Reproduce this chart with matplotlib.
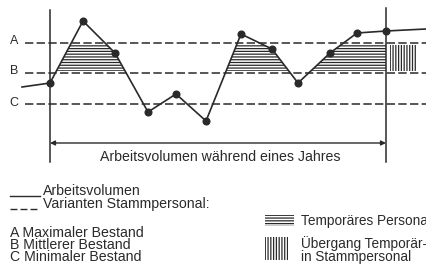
import numpy as np
import matplotlib
matplotlib.use("Agg")
import matplotlib.pyplot as plt
from matplotlib.patches import Rectangle

plt.rcParams['font.family'] = ['Liberation Sans', 'DejaVu Sans']
plt.rcParams['lines.scale_dashes'] = False
plt.rcParams['hatch.linewidth'] = 0.9

# ---- data (chart units: x = time, y = volume) ----
time_x = [22, 50, 83, 115, 148, 176, 206, 241, 272, 298, 330, 357, 386, 426]
volume = [181, 185, 247, 215, 156, 174, 147, 234, 219, 185, 215, 235, 237, 239]
marker_idx = list(range(1, 13))
level_labels = ["A", "B", "C"]
level_values = [225, 195, 164]
level_names = ["A Maximaler Bestand", "B Mittlerer Bestand", "C Minimaler Bestand"]
year_start, year_end = 50, 386
hatch_low, hatch_high = 197, 223
transfer_box = (390, 417)

ink = "#2a2a2a"
fs = 10.2
fig = plt.figure(figsize=(4.26, 2.68), dpi=100)
ax = fig.add_axes([0, 0, 1, 1])
ax.set_xlim(0, 426)
ax.set_ylim(0, 268)
ax.axis('off')

# dashed levels
for lab, v in zip(level_labels, level_values):
    ax.plot([25, 426], [v, v], color=ink, lw=1.1, dashes=(6, 2.4))
    ax.text(14, v + 1.5, lab, ha='center', va='center', fontsize=9, color=ink)

# hatched temporary staff area
xd = np.linspace(year_start, year_end, 2000)
yd = np.interp(xd, time_x, volume)
top = np.minimum(yd, hatch_high)
ax.fill_between(xd, hatch_low, top, where=yd > hatch_low, facecolor='none',
                edgecolor=ink, hatch='------', linewidth=0)

# transfer box (vertical hatch)
ax.add_patch(Rectangle((transfer_box[0], hatch_low), transfer_box[1] - transfer_box[0],
                       hatch_high - hatch_low, facecolor='none', edgecolor=ink,
                       hatch='||||||', linewidth=0))

# work volume curve
ax.plot(time_x, volume, color=ink, lw=1.2)
ax.plot([time_x[i] for i in marker_idx], [volume[i] for i in marker_idx], 'o',
        color=ink, ms=4.8)

# year boundaries
ax.plot([year_start, year_start], [106, 258], color=ink, lw=1.1)
ax.plot([year_end, year_end], [106, 260], color=ink, lw=1.1)
ax.annotate('', xy=(year_start, 125), xytext=(year_end, 125),
            arrowprops=dict(arrowstyle='<|-|>', color=ink, lw=1.0,
                            mutation_scale=7, shrinkA=0, shrinkB=0))
ax.text((year_start + year_end) / 2 + 2, 111, "Arbeitsvolumen während eines Jahres",
        ha='center', va='center', fontsize=fs, color=ink)

# legend
ax.plot([10, 40], [72, 72], color=ink, lw=1.0)
ax.text(43, 77, "Arbeitsvolumen", va='center', fontsize=fs, color=ink)
ax.plot([10, 40], [59, 59], color=ink, lw=1.0, dashes=(5, 2.2))
ax.text(43, 64, "Varianten Stammpersonal:", va='center', fontsize=fs, color=ink)
ax.text(10, 23, "\n".join(level_names), va='center', fontsize=fs, color=ink,
        linespacing=0.82)

ax.add_patch(Rectangle((265, 42), 29, 11, facecolor='none', edgecolor=ink,
                       hatch='------', linewidth=0))
ax.text(301, 47, "Temporäres Personal", va='center', fontsize=9.8, color=ink, clip_on=True)
ax.add_patch(Rectangle((265, 8), 23, 23, facecolor='none', edgecolor=ink,
                       hatch='||||||', linewidth=0))
ax.text(301, 18, "Übergang Temporär-\nin Stammpersonal", va='center', fontsize=9.8,
        color=ink, linespacing=0.9)

fig.savefig("out.png", dpi=100)
